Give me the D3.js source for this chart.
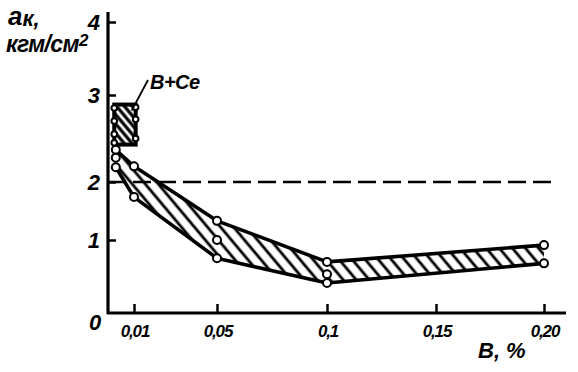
<!DOCTYPE html>
<html><head><meta charset="utf-8">
<script src="https://cdn.jsdelivr.net/npm/d3@7"></script>
<style>
html,body{margin:0;padding:0;background:#fff;}
text{font-family:"Liberation Sans",Arial,sans-serif;font-style:italic;font-weight:bold;fill:#000;}
</style></head>
<body><svg id="c" width="578" height="372"></svg>
<script>
// ---- data ----
const xTicks = [0.01, 0.05, 0.1, 0.15, 0.2];
const xTickLabels = ["0,01", "0,05", "0,1", "0,15", "0,20"];
const yTicks = [1, 2, 3, 4];
const yTickLabels = ["1", "2", "3", "4"];
const bandX = [0.003, 0.01, 0.05, 0.1, 0.2];
const upperY = [2.37, 2.18, 1.33, 0.70, 0.93];
const lowerY = [2.17, 1.74, 0.75, 0.41, 0.68];
const midX = [0.003, 0.05, 0.1];
const midY = [2.28, 1.00, 0.53];
const bceX = [0.0024, 0.0108];
const bceY = [2.43, 2.89];
const bcePtsLeft = [2.85, 2.7, 2.55, 2.45];
const bcePtsRight = [2.86, 2.72, 2.5];
const refLevel = 2;
const bceLabel = "B+Ce";
const xTitle = "B, %";

const svg = d3.select("#c");
const x = d3.scaleLinear().domain([0, 0.01, 0.05, 0.1, 0.15, 0.2]).range([108, 134, 217, 327, 436, 544]);
const y = d3.scaleLinear().domain([0, 1, 2, 3, 4]).range([313, 240, 182, 95, 22]);

const defs = svg.append("defs");
const pat = defs.append("pattern").attr("id", "hatch").attr("patternUnits", "userSpaceOnUse")
  .attr("width", 10).attr("height", 10).attr("patternTransform", "rotate(-40)");
pat.append("line").attr("x1", 3).attr("y1", 0).attr("x2", 3).attr("y2", 10)
  .attr("stroke", "#000").attr("stroke-width", 2.8);
const pat2 = defs.append("pattern").attr("id", "hatch2").attr("patternUnits", "userSpaceOnUse")
  .attr("width", 6).attr("height", 6).attr("patternTransform", "rotate(-40)");
pat2.append("line").attr("x1", 3).attr("y1", 0).attr("x2", 3).attr("y2", 6)
  .attr("stroke", "#000").attr("stroke-width", 3.2);

// axes
svg.append("line").attr("x1", 108).attr("x2", 108).attr("y1", 12).attr("y2", y(0) + 1)
  .attr("stroke", "#000").attr("stroke-width", 3.2);
svg.append("line").attr("x1", 107).attr("x2", 566).attr("y1", y(0)).attr("y2", y(0))
  .attr("stroke", "#000").attr("stroke-width", 3.2);

const yAxis = d3.axisRight(y).tickValues(yTicks).tickSize(8).tickFormat("");
const gy = svg.append("g").attr("transform", "translate(108,0)").call(yAxis);
gy.select(".domain").remove();
gy.selectAll("line").attr("stroke-width", 2.5);
svg.selectAll(".ylab").data(yTicks).join("text").attr("class", "ylab")
  .attr("x", 100).attr("y", d => y(d) + 8).attr("text-anchor", "end").attr("font-size", 22)
  .text((d, i) => yTickLabels[i]);

const xAxis = d3.axisTop(x).tickValues(xTicks).tickSize(9).tickFormat("");
const gx = svg.append("g").attr("transform", `translate(0,${y(0)})`).call(xAxis);
gx.select(".domain").remove();
gx.selectAll("line").attr("stroke-width", 2.5);
svg.selectAll(".xlab").data(xTicks).join("text").attr("class", "xlab")
  .attr("x", d => x(d) + 1).attr("y", 337).attr("text-anchor", "middle").attr("font-size", 17)
  .attr("letter-spacing", -1.2)
  .text((d, i) => xTickLabels[i]);
svg.append("text").attr("x", 95).attr("y", 330).attr("text-anchor", "middle").attr("font-size", 22).text("0");

// titles
svg.append("text").attr("x", 478).attr("y", 358).attr("font-size", 22).text(xTitle);
const t1 = svg.append("text").attr("x", 8).attr("y", 25).attr("font-size", 26);
t1.append("tspan").text("a");
t1.append("tspan").attr("font-size", 22).attr("dy", 1).text("к,");
const t2 = svg.append("text").attr("x", 6).attr("y", 52).attr("font-size", 23).attr("letter-spacing", -0.6);
t2.append("tspan").text("кгм/см");
t2.append("tspan").attr("font-size", 17).attr("dy", -6).text("2");

// reference dashed line
svg.append("line").attr("x1", 108).attr("x2", 551).attr("y1", y(refLevel)).attr("y2", y(refLevel))
  .attr("stroke", "#000").attr("stroke-width", 2.6).attr("stroke-dasharray", "18,7");

// band
const up = bandX.map((d, i) => [x(d), y(upperY[i])]);
const lo = bandX.map((d, i) => [x(d), y(lowerY[i])]);
svg.append("path").attr("d", d3.line()(up.concat(lo.slice().reverse())) + "Z")
  .attr("fill", "url(#hatch)").attr("stroke", "none");
[up, lo].forEach(p => svg.append("path").attr("d", d3.line()(p))
  .attr("fill", "none").attr("stroke", "#000").attr("stroke-width", 3.6).attr("stroke-linejoin", "round"));

// B+Ce box
const bx0 = x(bceX[0]), bx1 = x(bceX[1]), by0 = y(bceY[1]), by1 = y(bceY[0]);
svg.append("rect").attr("x", bx0).attr("y", by0).attr("width", bx1 - bx0).attr("height", by1 - by0)
  .attr("fill", "url(#hatch2)").attr("stroke", "#000").attr("stroke-width", 4);
const bcePts = bcePtsLeft.map(v => [bceX[0], v]).concat(bcePtsRight.map(v => [bceX[1], v]));
svg.selectAll(".bc").data(bcePts).join("circle").attr("class", "bc")
  .attr("cx", d => x(d[0])).attr("cy", d => y(d[1])).attr("r", 2.8)
  .attr("fill", "#fff").attr("stroke", "#000").attr("stroke-width", 2);
svg.append("line").attr("x1", x(bceX[1]) - 4).attr("y1", y(bceY[1]) + 6).attr("x2", 148).attr("y2", 80)
  .attr("stroke", "#000").attr("stroke-width", 1.8);
svg.append("text").attr("x", 150).attr("y", 89).attr("font-size", 20).attr("letter-spacing", -0.5).text(bceLabel);

// points
const pts = bandX.map((d, i) => [d, upperY[i]])
  .concat(bandX.map((d, i) => [d, lowerY[i]]))
  .concat(midX.map((d, i) => [d, midY[i]]));
svg.selectAll(".pt").data(pts).join("circle").attr("class", "pt")
  .attr("cx", d => x(d[0])).attr("cy", d => y(d[1])).attr("r", 4)
  .attr("fill", "#fff").attr("stroke", "#000").attr("stroke-width", 2);
</script></body></html>
